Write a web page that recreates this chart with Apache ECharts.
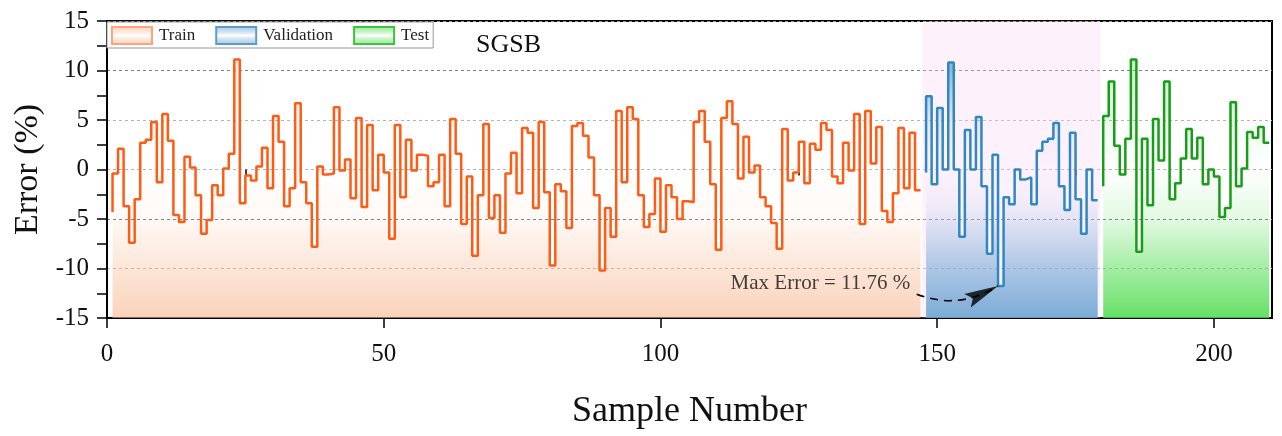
<!DOCTYPE html>
<html><head><meta charset="utf-8">
<script src="https://cdn.jsdelivr.net/npm/echarts@6/dist/echarts.min.js"></script>
<style>html,body{margin:0;padding:0;background:#fff}#c{width:1282px;height:436px}</style>
</head><body><div id="c"></div>
<script>
// ---------------- data ----------------
const trainStart = 1;
const trainErr = [
  -4.3, -0.4, 2.1, -3.7, -7.4, -3.0, 2.7, 3.0, 4.8, -1.3,
   5.6, 2.9, -4.6, -5.3, 1.3, 0.2, -2.6, -6.5, -5.1, -1.6,
  -2.6, 0.1, 1.6, 11.1, -3.4, -0.6, -1.1, 0.3, 2.2, -1.9,
   5.4, 2.8, -3.7, -1.9, 6.7, -1.3, -3.4, -7.8, 0.3, -0.5,
  -0.4, 6.3, -0.1, 1.0, -2.9, 5.2, -3.8, 4.5, -2.1, 1.5,
  -0.3, -7.0, 4.5, -2.8, 3.0, -0.1, 1.5, 1.4, -1.7, -1.3,
   1.5, -3.7, 5.1, 1.6, -5.5, -0.7, -8.7, -2.6, 4.6, -4.9,
  -2.6, -6.4, -0.4, 1.7, -2.4, 4.2, 3.7, -3.9, 4.8, -2.3,
  -9.7, -1.5, -2.2, -5.9, 4.4, 4.7, 3.4, 1.2, -2.6, -10.2,
  -3.9, -6.8, 5.9, -1.3, 6.3, 5.1, -2.6, -5.8, -4.5, -0.9,
  -6.3, -1.6, -2.8, -5.0, -3.2, -3.3, 4.8, 5.9, 2.8, -1.5,
  -8.1, 5.2, 6.9, 4.6, -0.9, 3.3, -0.3, 0.4, -2.8, -3.7,
  -5.4, -8.0, 4.1, -1.1, -0.3, 2.8, -1.4, 2.6, 2.0, 4.7,
   4.0, -0.7, -1.4, 2.7, -0.1, 5.6, -5.5, 5.9, 0.6, 4.3,
  -4.2, -5.3, -2.4, 4.2, -1.9, 3.7, -2.1
];
const valStart = 148;
const valErr = [
  -0.3, 7.4, -1.5, 6.2, 0.0, 10.8, 0.0, -6.8, 4.0, 0.0,
   5.3, -1.7, -8.5, 1.5, -11.76, -2.8, -3.5, 0.0, -1.0, -0.8,
  -3.5, 1.9, 2.8, 3.1, 4.7, -1.7, -4.1, 3.7, -3.0, -6.5,
   0.0, -3.1
];
const testStart = 180;
const testErr = [
  -1.7, 5.4, 8.9, 2.4, -0.5, 3.1, 11.1, -8.3, 3.1, -3.6,
   5.1, 0.9, 8.9, -3.0, -1.4, 1.1, 4.1, 1.1, 3.2, -1.5,
   0.0, -0.7, -4.8, -3.9, 6.8, -1.7, 0.1, 3.8, 3.2, 4.3,
   2.7
];
const seriesNames = ['Train', 'Validation', 'Test'];
const xTicks = [0, 50, 100, 150, 200];
const xMinorTicks = [25, 75, 125, 175];
const yTicks = [-15, -10, -5, 0, 5, 10, 15];
const chartTitle = 'SGSB';
const maxErrorLabel = 'Max Error = 11.76 %';
const labelAt = [128.9, -11.5];
const arrowFrom = [146.3, -12.6];
const arrowTo = [161, -11.76];
const valBand = [147.3, 179.5];

// ---------------- helpers ----------------
function toPairs(start, arr) { return arr.map((v, i) => [start + i, v]); }
const FONT = 'Liberation Serif';
const GRID = { left: 107, right: 10, top: 21, bottom: 118 };
const plotTop = GRID.top, plotBottom = 436 - GRID.bottom;
function off(v) { return (15 - v) / 30; }
function areaGrad(rgb, stops) {
  return {
    type: 'linear', x: 0, y: plotTop, x2: 0, y2: plotBottom, global: true,
    colorStops: stops.map(([v, a]) => ({ offset: off(v), color: `rgba(${rgb},${a})` }))
  };
}
function legendGrad(rgb) {
  return {
    type: 'linear', x: 0, y: 0, x2: 0, y2: 1,
    colorStops: [
      { offset: 0, color: `rgba(${rgb},0.5)` },
      { offset: 0.5, color: 'rgba(255,255,255,1)' },
      { offset: 1, color: `rgba(${rgb},0.5)` }
    ]
  };
}
const C_TRAIN = '#ff5b14', C_VAL = '#2f88c4', C_TEST = '#179e17';
const RGB_TRAIN = '247,181,141', RGB_VAL = '106,162,209', RGB_TEST = '75,219,75';
const HEAD_ROT = 26, HEAD_LEN = 34, HEAD_W = 15;
const headOffset = [-HEAD_LEN / 2 * Math.cos(HEAD_ROT * Math.PI / 180), HEAD_LEN / 2 * Math.sin(HEAD_ROT * Math.PI / 180)];
const splitColors = ['#999', '#b5b5b5', '#7f7f7f', '#b5b5b5', '#b5b5b5', '#7f7f7f', '#999'];

const chart = echarts.init(document.getElementById('c'), null, { renderer: 'canvas' });
const option = {
  animation: false,
  backgroundColor: '#fff',
  title: {
    text: chartTitle, left: 471, top: 27,
    textStyle: { fontFamily: FONT, fontSize: 26, fontWeight: 'normal', color: '#111' }
  },
  legend: {
    left: 107, top: 22, orient: 'horizontal',
    icon: 'rect', itemWidth: 40, itemHeight: 17, itemGap: 20,
    padding: [4, 4, 3, 4],
    backgroundColor: '#fff', borderColor: '#999', borderWidth: 1,
    textStyle: { fontFamily: FONT, fontSize: 17, color: '#222', padding: [0, 0, 0, 2] },
    data: [
      { name: seriesNames[0], itemStyle: { color: legendGrad(RGB_TRAIN), borderColor: '#ffa37a', borderWidth: 2 } },
      { name: seriesNames[1], itemStyle: { color: legendGrad(RGB_VAL), borderColor: '#5a9ccc', borderWidth: 2 } },
      { name: seriesNames[2], itemStyle: { color: legendGrad(RGB_TEST), borderColor: '#3cc43c', borderWidth: 2 } }
    ]
  },
  grid: { ...GRID, show: true, borderColor: '#000', borderWidth: 2, backgroundColor: 'transparent' },
  xAxis: [{
    type: 'value', min: 0, max: 210.5, interval: 50,
    axisLine: { show: true, onZero: false, lineStyle: { color: '#000', width: 2 } },
    axisTick: { show: true, length: 10, customValues: xTicks, lineStyle: { color: '#000', width: 1.5 } },
    axisLabel: { customValues: xTicks, fontFamily: FONT, fontSize: 25, color: '#111', margin: 24 },
    splitLine: { show: false },
    name: 'Sample Number', nameLocation: 'middle', nameGap: 76,
    nameTextStyle: { fontFamily: FONT, fontSize: 36, color: '#111' }
  }, {
    type: 'value', min: 0, max: 210.5, position: 'bottom',
    axisLine: { show: false },
    axisTick: { show: true, length: 6, customValues: xMinorTicks, lineStyle: { color: '#000', width: 1.5 } },
    axisLabel: { show: false },
    splitLine: { show: false }
  }],
  yAxis: {
    type: 'value', min: -15, max: 15, interval: 5,
    axisLine: { show: true, onZero: false, lineStyle: { color: '#000', width: 2 } },
    axisTick: { show: true, length: 10, lineStyle: { color: '#000', width: 1.5 } },
    minorTick: { show: true, splitNumber: 2, length: 10, lineStyle: { color: '#000', width: 1.5 } },
    axisLabel: { fontFamily: FONT, fontSize: 25, color: '#111', margin: 18 },
    splitLine: { show: true, lineStyle: { type: [3, 3], color: splitColors, width: 1 } },
    name: 'Error (%)', nameLocation: 'middle', nameGap: 62,
    nameTextStyle: { fontFamily: FONT, fontSize: 34, color: '#111' }
  },
  series: [
    {
      name: 'band', type: 'line', data: [], z: 1, silent: true,
      markArea: {
        silent: true,
        itemStyle: { color: 'rgba(248,208,245,0.3)' },
        data: [[{ xAxis: valBand[0] }, { xAxis: valBand[1] }]]
      }
    },
    {
      name: seriesNames[0], type: 'line', step: 'start', symbol: 'none', z: 3,
      data: toPairs(trainStart, trainErr),
      lineStyle: { color: C_TRAIN, width: 2.5 }, itemStyle: { color: C_TRAIN },
      areaStyle: { origin: 'start', opacity: 1, color: areaGrad(RGB_TRAIN, [[15, 0.3], [11, 0.22], [5, 0.05], [0, 0], [-5, 0.08], [-10, 0.35], [-15, 0.6]]) }
    },
    {
      name: seriesNames[1], type: 'line', step: 'start', symbol: 'none', z: 3,
      data: toPairs(valStart, valErr),
      lineStyle: { color: C_VAL, width: 2.5 }, itemStyle: { color: C_VAL },
      areaStyle: { origin: 'start', opacity: 1, color: areaGrad(RGB_VAL, [[15, 0.85], [10, 0.72], [7, 0.38], [5, 0.16], [2, 0.03], [0, 0], [-3, 0.06], [-5, 0.17], [-10, 0.55], [-15, 0.88]]) }
    },
    {
      name: seriesNames[2], type: 'line', step: 'start', symbol: 'none', z: 3,
      data: toPairs(testStart, testErr),
      lineStyle: { color: C_TEST, width: 2.5 }, itemStyle: { color: C_TEST },
      areaStyle: { origin: 'start', opacity: 1, color: areaGrad(RGB_TEST, [[15, 0.35], [11, 0.28], [5, 0.1], [0, 0], [-5, 0.16], [-10, 0.5], [-15, 0.85]]) }
    },
    {
      name: 'arrow', type: 'lines', coordinateSystem: 'cartesian2d', z: 6, silent: true,
      symbol: ['none', 'none'],
      lineStyle: { color: '#000', width: 1.6, type: [8, 6], curveness: -0.25, opacity: 1 },
      data: [{ coords: [arrowFrom, arrowTo] }]
    },
    {
      name: 'arrowHead', type: 'scatter', z: 7, silent: true,
      symbol: 'path://M0,0 L34,7.5 L0,15 L6,7.5 Z', symbolKeepAspect: false,
      symbolSize: [HEAD_LEN, HEAD_W], symbolRotate: HEAD_ROT, symbolOffset: headOffset,
      itemStyle: { color: '#000' },
      data: [arrowTo]
    },
    {
      name: 'note', type: 'scatter', z: 6, silent: true, symbolSize: 1,
      itemStyle: { color: 'rgba(0,0,0,0)' },
      label: { show: true, position: 'inside', formatter: maxErrorLabel, fontFamily: FONT, fontSize: 21, color: '#111' },
      data: [labelAt]
    }
  ]
};
chart.setOption(option);
</script>
</body></html>
